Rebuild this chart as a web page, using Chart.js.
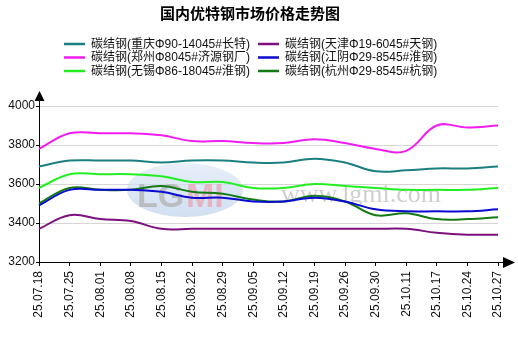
<!DOCTYPE html>
<html>
<head>
<meta charset="utf-8">
<script src="https://cdn.jsdelivr.net/npm/chart.js@4"></script>
<style>
  html, body { margin: 0; padding: 0; background: #fff; }
  #wrap { width: 518px; height: 337px; }
</style>
</head>
<body>
<div id="wrap"><canvas id="priceChart" width="518" height="337"></canvas></div>
<script>
const labels = ['25.07.18', '25.07.25', '25.08.01', '25.08.08', '25.08.15', '25.08.22', '25.08.29', '25.09.05',
    '25.09.12', '25.09.19', '25.09.26', '25.09.30', '25.10.11', '25.10.17', '25.10.24', '25.10.27'];

const chongqing = [3690, 3720, 3720, 3720, 3710, 3720, 3720, 3710, 3710, 3730, 3710, 3665, 3670, 3680, 3680, 3690];
const tianjin   = [3370, 3440, 3420, 3410, 3370, 3370, 3370, 3370, 3370, 3370, 3370, 3370, 3370, 3350, 3340, 3340];
const zhengzhou = [3780, 3860, 3860, 3860, 3850, 3820, 3820, 3810, 3810, 3830, 3810, 3780, 3770, 3900, 3890, 3900];
const jiangyin  = [3490, 3570, 3570, 3570, 3560, 3530, 3530, 3510, 3510, 3530, 3510, 3470, 3460, 3460, 3460, 3470];
const wuxi      = [3580, 3650, 3650, 3650, 3640, 3610, 3610, 3580, 3580, 3600, 3590, 3580, 3570, 3570, 3570, 3580];
const hangzhou  = [3500, 3580, 3570, 3570, 3590, 3560, 3550, 3520, 3510, 3540, 3510, 3440, 3450, 3420, 3420, 3430];

const seriesNames = ['碳结钢(重庆Φ90-14045#长特)', '碳结钢(天津Φ19-6045#天钢)', '碳结钢(郑州Φ8045#济源钢厂)',
    '碳结钢(江阴Φ29-8545#淮钢)', '碳结钢(无锡Φ86-18045#淮钢)', '碳结钢(杭州Φ29-8545#杭钢)'];
const seriesValues = [chongqing, tianjin, zhengzhou, jiangyin, wuxi, hangzhou];
const seriesColors = ['#1b7f80', '#7e0f7e', '#f01cf0', '#0a0ad0', '#22ee22', '#137a13'];

const yTicks = [3200, 3400, 3600, 3800, 4000];

Chart.defaults.font.family = '"Liberation Sans", Arial, "Noto Sans CJK SC", sans-serif';
Chart.defaults.font.size = 12;
Chart.defaults.color = '#111';

// titel, legende, watermerk en pijlen zelf tekenen
const decor = {
    id: 'decor',
    beforeDatasetsDraw(chart) {
        const c = chart.ctx;
        c.save();
        // watermerk logo
        const g = c.createLinearGradient(0, 163, 0, 217);
        g.addColorStop(0, 'rgba(220,232,247,0.7)');
        g.addColorStop(1, 'rgba(190,210,236,0.7)');
        c.fillStyle = g;
        c.beginPath();
        c.ellipse(185, 190, 58, 27, 0, 0, Math.PI * 2);
        c.fill();
        c.font = 'bold 34px "Liberation Sans", Arial';
        c.textBaseline = 'alphabetic';
        c.fillStyle = 'rgba(180,180,180,0.8)';
        c.fillText('LG', 137, 207);
        c.fillStyle = 'rgba(235,160,175,0.7)';
        c.fillText('MI', 186, 207);
        c.font = '26px "Liberation Serif", "Times New Roman", serif';
        c.fillStyle = 'rgba(160,160,160,0.5)';
        c.fillText('www.lgmi.com', 281, 202);
        c.restore();
    },
    afterDraw(chart) {
        const c = chart.ctx;
        const area = chart.chartArea;
        c.save();
        c.fillStyle = '#000';
        c.font = 'bold 15px "Noto Sans CJK SC", sans-serif';
        c.textAlign = 'center';
        c.textBaseline = 'middle';
        c.fillText('国内优特钢市场价格走势图', 250, 13);

        // legende in twee kolommen
        c.font = '12px "Liberation Sans", Arial, "Noto Sans CJK SC", sans-serif';
        c.textAlign = 'left';
        const colX = [64, 258];
        const rowY = [44, 57.5, 71];
        chart.data.datasets.forEach(function (ds, i) {
            const x = colX[i % 2];
            const y = rowY[Math.floor(i / 2)];
            c.strokeStyle = ds.borderColor;
            c.lineWidth = 2.5;
            c.beginPath();
            c.moveTo(x, y);
            c.lineTo(x + 21, y);
            c.stroke();
            c.fillStyle = '#111';
            c.fillText(ds.label, x + 27, y + 0.5);
        });

        // assen met pijlpunten
        const x0 = Math.round(area.left) + 0.5;
        const y0 = Math.round(area.bottom) + 0.5;
        c.strokeStyle = '#000';
        c.lineWidth = 1;
        c.beginPath();
        c.moveTo(x0, area.top);
        c.lineTo(x0, 100);
        c.moveTo(area.right, y0);
        c.lineTo(504, y0);
        c.stroke();
        c.fillStyle = '#000';
        c.beginPath();
        c.moveTo(x0, 91);
        c.lineTo(x0 - 5, 101);
        c.lineTo(x0 + 5, 101);
        c.closePath();
        c.fill();
        c.beginPath();
        c.moveTo(515, y0);
        c.lineTo(503, y0 - 5.5);
        c.lineTo(503, y0 + 5.5);
        c.closePath();
        c.fill();
        c.restore();
    }
};

new Chart(document.getElementById('priceChart'), {
    type: 'line',
    data: {
        labels: labels,
        datasets: seriesNames.map(function (name, i) {
            return {
                label: name,
                data: seriesValues[i],
                borderColor: seriesColors[i],
                backgroundColor: seriesColors[i],
                borderWidth: 2,
                pointRadius: 0,
                tension: 0.4,
                fill: false
            };
        })
    },
    options: {
        responsive: false,
        animation: false,
        layout: { padding: { top: 106, right: 20, left: 0, bottom: 0 } },
        plugins: {
            legend: { display: false },
            title: { display: false },
            tooltip: { enabled: false }
        },
        scales: {
            x: {
                offset: false,
                grid: { display: true, drawOnChartArea: false, tickLength: 4, tickColor: '#000' },
                border: { color: '#000', width: 1 },
                ticks: { autoSkip: false, minRotation: 90, maxRotation: 90, padding: 5, color: '#111' },
                afterFit: function (scale) { scale.height = 75; }
            },
            y: {
                min: 3200,
                max: 4000,
                afterBuildTicks: function (scale) { scale.ticks = yTicks.map(function (v) { return { value: v }; }); },
                grid: { color: '#d6d6d6', tickLength: 3, tickColor: '#000' },
                border: { color: '#000', width: 1 },
                ticks: {
                    padding: 1,
                    color: '#111',
                    callback: function (v) { return String(v); }
                },
                afterFit: function (scale) { scale.width = 39; }
            }
        }
    },
    plugins: [decor]
});
</script>
</body>
</html>
